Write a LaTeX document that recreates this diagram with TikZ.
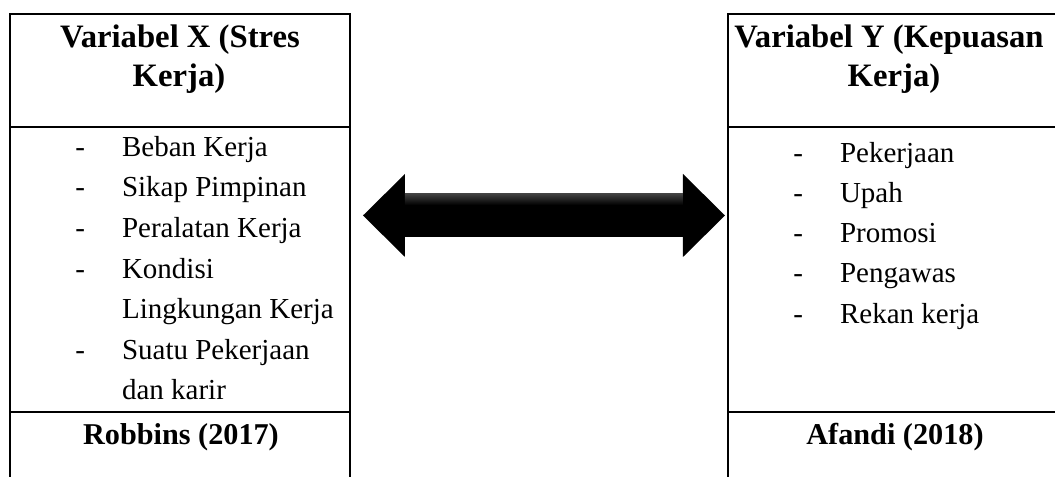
\documentclass[tikz,border=0pt]{standalone}
\usepackage{fontspec}
\setmainfont{Liberation Serif}
\usepackage{tikz}
\newcommand{\itm}{\llap{-\hspace{0.37cm}}}

\begin{document}
\begin{tikzpicture}[x=1cm, y=-1cm, line width=0.6pt,
  every node/.style={inner sep=0pt, font=\fontsize{8.25}{10}\selectfont},
  head/.style={anchor=base, font=\fontsize{9.3}{11}\selectfont\bfseries},
  src/.style={anchor=base, font=\fontsize{8.6}{10}\selectfont\bfseries},
  item/.style={anchor=base west}]
\useasboundingbox (0,0) rectangle (10.55,4.77);
% tabel kiri
\draw (0.10,4.80) -- (0.10,0.14) -- (3.50,0.14) -- (3.50,4.80);
\draw (0.10,1.27) -- (3.50,1.27);
\draw (0.10,4.12) -- (3.50,4.12);
% tabel kanan
\draw (7.28,4.80) -- (7.28,0.14) -- (10.60,0.14);
\draw (7.28,1.27) -- (10.60,1.27);
\draw (7.28,4.12) -- (10.60,4.12);
\node[head] (X1) at (1.80,0.48) {Variabel X (Stres};
\node[head] (X2) at (1.79,0.87) {Kerja)};
\node[head] (Y1) at (8.89,0.48) {Variabel Y (Kepuasan};
\node[head] (Y2) at (8.94,0.87) {Kerja)};
\node[item] (Xa) at (1.21,1.57) {\itm Beban Kerja};
\node[item] (Xb) at (1.21,1.97) {\itm Sikap Pimpinan};
\node[item] (Xc) at (1.21,2.38) {\itm Peralatan Kerja};
\node[item] (Xd) at (1.21,2.79) {\itm Kondisi};
\node[item] (Xd2) at (1.21,3.19) {Lingkungan Kerja};
\node[item] (Xe) at (1.21,3.60) {\itm Suatu Pekerjaan};
\node[item] (Xe2) at (1.21,4.00) {dan karir};
\node[item] (Ya) at (8.39,1.63) {\itm Pekerjaan};
\node[item] (Yb) at (8.39,2.03) {\itm Upah};
\node[item] (Yc) at (8.39,2.43) {\itm Promosi};
\node[item] (Yd) at (8.39,2.83) {\itm Pengawas};
\node[item] (Ye) at (8.39,3.24) {\itm Rekan kerja};
\node[src] (XS) at (1.81,4.45) {Robbins (2017)};
\node[src] (YS) at (8.95,4.45) {Afandi (2018)};
% panah dua arah
\fill[black]
  (3.63,2.155) -- (4.05,1.74) -- (4.05,1.94) -- (6.83,1.94) -- (6.83,1.74)
  -- (7.25,2.155) -- (6.83,2.57) -- (6.83,2.37) -- (4.05,2.37) -- (4.05,2.57) -- cycle;
\shade[top color=black!75, bottom color=black] (4.05,1.94) rectangle (6.83,2.05);
\end{tikzpicture}
\end{document}
